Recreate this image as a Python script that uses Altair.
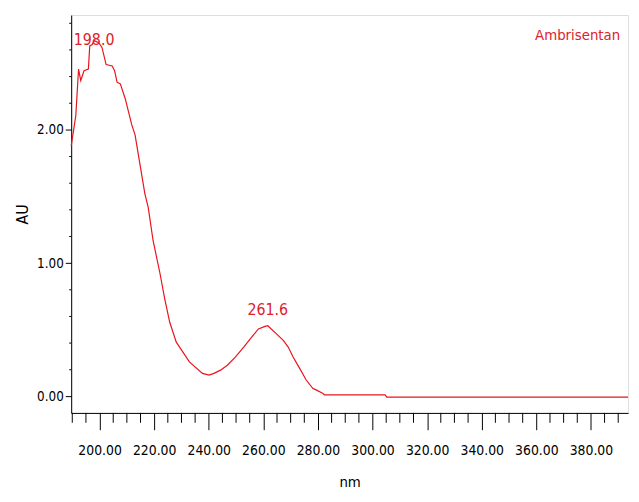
import altair as alt
import pandas as pd

# spectrum (nm, AU)
wavelength = [189.6, 190.5, 191.3, 192.3, 193.1, 194.3, 195.9, 196.4, 197.3, 198.0,
              199.7, 200.9, 202.4, 204.6, 205.5, 206.4, 207.6, 209.4, 211.8, 213.0,
              214.2, 216.6, 217.8, 219.6, 222.1, 223.9, 225.7, 228.1, 232.9, 237.7,
              240.1, 241.9, 244.3, 246.8, 249.8, 252.8, 255.2, 258.2, 260.6, 261.6,
              264.8, 267.3, 269.1, 270.9, 273.3, 275.7, 278.1, 279.3, 281.7, 282.3,
              304.6, 305.2, 393.6]
absorbance = [1.88, 2.00, 2.11, 2.456, 2.37, 2.444, 2.456, 2.63, 2.64, 2.67,
              2.654, 2.617, 2.49, 2.48, 2.444, 2.358, 2.345, 2.234, 2.037, 1.963,
              1.815, 1.52, 1.42, 1.17, 0.926, 0.728, 0.556, 0.407, 0.259, 0.173,
              0.16, 0.173, 0.197, 0.234, 0.296, 0.37, 0.432, 0.506, 0.525, 0.53,
              0.469, 0.42, 0.37, 0.296, 0.21, 0.123, 0.061, 0.049, 0.024, 0.012,
              0.012, -0.005, -0.005]

peak_nm = [198.0, 261.6]
peak_au = [2.67, 0.53]
peak_text = ["198.0", "261.6"]

series_name = ["Ambrisentan"]

x_major = [200, 220, 240, 260, 280, 300, 320, 340, 360, 380]
x_minor = [190, 195, 205, 210, 215, 225, 230, 235, 245, 250, 255, 265, 270, 275,
           285, 290, 295, 305, 310, 315, 325, 330, 335, 345, 350, 355, 365, 370,
           375, 385, 390]
y_major = [0, 1, 2]
y_minor = [0.2, 0.4, 0.6, 0.8, 1.2, 1.4, 1.6, 1.8, 2.2, 2.4, 2.6, 2.8]

W, H = 564, 403
FONT = "DejaVu Sans Condensed, Liberation Sans, sans-serif"
RED = "#e8141c"
TXT_RED = "#e0202a"

xs = alt.Scale(domain=[189.6, 393.6], nice=False, zero=False)
ys = alt.Scale(domain=[-0.124, 2.862], nice=False, zero=False)

df = pd.DataFrame({"nm": wavelength, "au": absorbance})
peaks = pd.DataFrame({"nm": peak_nm, "au": peak_au, "label": peak_text})

line = alt.Chart(df).mark_line(color=RED, strokeWidth=1.2).encode(
    x=alt.X("nm:Q", scale=xs,
            axis=alt.Axis(values=x_major, format=".2f", tickSize=17, labelFontSize=14,
                          labelPadding=14, labelFont=FONT, grid=False, title="nm",
                          titleFont=FONT, titleFontSize=15, titleFontWeight="normal",
                          titleY=70, titleBaseline="middle", domainColor="black",
                          tickColor="black", labelColor="black")),
    y=alt.Y("au:Q", scale=ys,
            axis=alt.Axis(values=y_major, format=".2f", tickSize=6, labelFontSize=13.5,
                          labelPadding=2, labelFont=FONT, grid=False, title="AU",
                          titleFont=FONT, titleFontSize=16, titleFontWeight="normal",
                          titleX=-49, titleY=H / 2, titleBaseline="middle",
                          domainColor="black", tickColor="black", labelColor="black")),
)

labels_top = alt.Chart(peaks.iloc[[0]]).mark_text(
    color=TXT_RED, font=FONT, fontSize=16, baseline="bottom", align="center", dy=7
).encode(x=alt.X("nm:Q", scale=xs), y=alt.Y("au:Q", scale=ys), text="label:N")

labels_2 = alt.Chart(peaks.iloc[[1]]).mark_text(
    color=TXT_RED, font=FONT, fontSize=16, baseline="bottom", align="center", dy=-8
).encode(x=alt.X("nm:Q", scale=xs), y=alt.Y("au:Q", scale=ys), text="label:N")

name = alt.Chart(pd.DataFrame({"name": series_name})).mark_text(
    color=TXT_RED, font=FONT, fontSize=15, baseline="top", align="right"
).encode(x=alt.value(W - 8), y=alt.value(13), text="name:N")

xmin = alt.Chart(pd.DataFrame({"nm": x_minor})).mark_rule(color="black").encode(
    x=alt.X("nm:Q", scale=xs), y=alt.value(H), y2=alt.value(H + 10))

ymin = alt.Chart(pd.DataFrame({"au": y_minor})).mark_rule(color="black").encode(
    y=alt.Y("au:Q", scale=ys), x=alt.value(-2), x2=alt.value(0))

chart = alt.layer(line, labels_top, labels_2, name, xmin, ymin).properties(
    width=W, height=H,
    padding={"left": 64, "top": 4, "right": 3, "bottom": 78},
    autosize=alt.AutoSizeParams(type="none"),
).configure_view(stroke="#333333", strokeWidth=1.5).configure(background="white")

chart.save("out.html", embed_options={"renderer": "svg", "actions": False})
